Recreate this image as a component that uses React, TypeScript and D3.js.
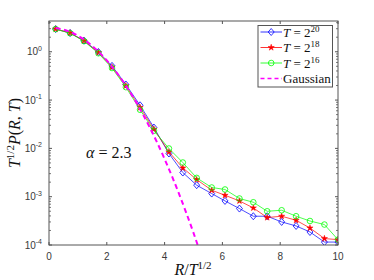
import React from "react";
import * as d3 from "d3";

const X = [0.23, 0.73, 1.21, 1.71, 2.18, 2.66, 3.15, 3.63, 4.15, 4.63, 5.11, 5.63, 6.09, 6.59, 7.07, 7.55, 8.05, 8.55, 9.03, 9.53, 10.0];
const blueT20 = [2.95, 2.45, 1.7, 0.99, 0.51, 0.21, 0.078, 0.027, 0.00783, 0.00316, 0.00173, 0.00116, 0.000817, 0.000568, 0.000394, 0.000394, 0.0003, 0.000248, 0.000186, 0.000115, 0.000115];
const redT18 = [2.95, 2.45, 1.68, 0.96, 0.48, 0.197, 0.07, 0.025, 0.00845, 0.00394, 0.00226, 0.00136, 0.00107, 0.000817, 0.000585, 0.00037, 0.000394, 0.000325, 0.000225, 0.000136, 0.000129];
const greenT16 = [2.95, 2.42, 1.66, 0.93, 0.46, 0.185, 0.063, 0.0232, 0.00995, 0.0051, 0.00245, 0.00155, 0.00141, 0.000917, 0.000767, 0.000499, 0.000524, 0.000394, 0.000314, 0.000265, 0.000129];
const gaussX = [0.23, 0.5, 0.75, 1.0, 1.25, 1.5, 1.75, 2.0, 2.25, 2.5, 2.75, 3.0, 3.25, 3.5, 3.75, 4.0, 4.25, 4.5, 4.75, 5.0, 5.25];
const gaussY = [3.09, 2.87, 2.54, 2.14, 1.716, 1.311, 0.954, 0.661, 0.436, 0.274, 0.1638, 0.0933, 0.0506, 0.02615, 0.01286, 0.00603, 0.00269, 0.001142, 0.000462, 0.000178, 0.0000652];
const xTicks = [0, 2, 4, 6, 8, 10];
const yTickExps = [-4, -3, -2, -1, 0];

const L = 49, R = 338, T = 21, B = 245;

export default function App() {
  const x = d3.scaleLinear().domain([0, 10]).range([L, R]);
  const y = d3.scaleLog().domain([1e-4, 4.33]).range([B, T]);
  const line = d3.line<[number, number]>().x(d => x(d[0])).y(d => y(d[1]));
  const gLine = d3.line<[number, number]>().x(d => x(d[0])).y(d => y(d[1])).curve(d3.curveMonotoneX);

  const series = [
    { vals: blueT20, color: "#0000ff", marker: "diamond", label: "20" },
    { vals: redT18, color: "#ff0000", marker: "star", label: "18" },
    { vals: greenT16, color: "#00ff00", marker: "circle", label: "16" },
  ];

  const drawMarker = (m: string, color: string, cx: number, cy: number, key: any) => {
    if (m === "diamond") {
      return <path key={key} d={`M${cx},${cy - 3.5}L${cx + 3},${cy}L${cx},${cy + 3.5}L${cx - 3},${cy}Z`} fill="none" stroke={color} strokeWidth={0.8} />;
    }
    if (m === "circle") {
      return <circle key={key} cx={cx} cy={cy} r={2.8} fill="none" stroke={color} strokeWidth={0.8} />;
    }
    const s = d3.symbol().type(d3.symbolStar).size(12)();
    return <path key={key} d={s || ""} transform={`translate(${cx},${cy})`} fill={color} stroke={color} strokeWidth={0.5} />;
  };

  const minor: number[] = [];
  for (let e = -4; e <= 0; e++) {
    for (let k = 2; k <= 9; k++) {
      const v = k * Math.pow(10, e);
      if (v <= 4.33) minor.push(v);
    }
  }

  const axisColor = "#555";
  const textColor = "#3a3a3a";
  const serif = "'Liberation Serif', 'Times New Roman', serif";
  const sans = "'Liberation Sans', Arial, Helvetica, sans-serif";

  const legendRows = [32, 47.5, 63, 78.5];

  return (
    <svg width={374} height={280} style={{ position: "absolute", left: 0, top: 0 }}>
      <rect x={0} y={0} width={374} height={280} fill="#fff" />
      <defs>
        <clipPath id="plotclip">
          <rect x={L} y={T} width={R - L} height={B - T} />
        </clipPath>
      </defs>
      <g clipPath="url(#plotclip)">
        {series.map((s, si) => (
          <g key={si}>
            <path d={line(X.map((xv, i) => [xv, s.vals[i]] as [number, number])) || ""} fill="none" stroke={s.color} strokeWidth={0.7} />
            {X.map((xv, i) => drawMarker(s.marker, s.color, x(xv), y(s.vals[i]), i))}
          </g>
        ))}
        <path d={gLine(gaussX.map((xv, i) => [xv, gaussY[i]] as [number, number])) || ""} fill="none" stroke="#ff00ff" strokeWidth={2} strokeDasharray="5,3.5" />
      </g>
      <rect x={L} y={T} width={R - L} height={B - T} fill="none" stroke={axisColor} strokeWidth={1} />
      {xTicks.map(t => (
        <g key={"xt" + t}>
          <line x1={x(t)} x2={x(t)} y1={B} y2={B - 3} stroke={axisColor} />
          <line x1={x(t)} x2={x(t)} y1={T} y2={T + 3} stroke={axisColor} />
          <text x={x(t)} y={259.5} textAnchor="middle" fontFamily={sans} fontSize={10} fill={textColor}>{t}</text>
        </g>
      ))}
      {yTickExps.map(e => {
        const v = Math.pow(10, e);
        return (
          <g key={"yt" + e}>
            <line x1={L} x2={L + 3} y1={y(v)} y2={y(v)} stroke={axisColor} />
            <line x1={R} x2={R - 3} y1={y(v)} y2={y(v)} stroke={axisColor} />
            <text x={42} y={y(v) + 3.5} textAnchor="end" fontFamily={sans} fontSize={10} fill={textColor}>
              10<tspan dy={-4.5} fontSize={7}>{e}</tspan>
            </text>
          </g>
        );
      })}
      {minor.map((v, i) => (
        <g key={"mn" + i}>
          <line x1={L} x2={L + 2} y1={y(v)} y2={y(v)} stroke={axisColor} strokeWidth={0.8} />
          <line x1={R} x2={R - 2} y1={y(v)} y2={y(v)} stroke={axisColor} strokeWidth={0.8} />
        </g>
      ))}
      <text x={193} y={275} textAnchor="middle" fontFamily={serif} fontSize={16} fill="#111">
        <tspan fontStyle="italic">R</tspan>/<tspan fontStyle="italic">T</tspan><tspan dy={-6} fontSize={11}>1/2</tspan>
      </text>
      <text transform="translate(20,133) rotate(-90)" textAnchor="middle" fontFamily={serif} fontSize={16} fill="#111">
        <tspan fontStyle="italic">T</tspan><tspan dy={-6} fontSize={11}>1/2</tspan><tspan dy={6} fontStyle="italic">P</tspan>(<tspan fontStyle="italic">R</tspan>, <tspan fontStyle="italic">T</tspan>)
      </text>
      <text x={86} y={158} fontFamily={serif} fontSize={16} fill="#111">
        <tspan fontStyle="italic">α</tspan> = 2.3
      </text>
      <rect x={258} y={25.5} width={74.5} height={61.5} fill="#fff" stroke={axisColor} strokeWidth={1} />
      {series.map((s, i) => (
        <g key={"lg" + i}>
          <line x1={260.5} x2={282} y1={legendRows[i]} y2={legendRows[i]} stroke={s.color} strokeWidth={0.8} />
          {drawMarker(s.marker, s.color, 271.2, legendRows[i], "m")}
          <text x={283} y={legendRows[i] + 4.5} fontFamily={serif} fontSize={13} fill="#111">
            <tspan fontStyle="italic">T</tspan> = 2<tspan dy={-5} fontSize={9}>{s.label}</tspan>
          </text>
        </g>
      ))}
      <line x1={260.5} x2={282} y1={legendRows[3]} y2={legendRows[3]} stroke="#ff00ff" strokeWidth={1.6} strokeDasharray="4,3" />
      <text x={283} y={legendRows[3] + 4.5} fontFamily={serif} fontSize={13} fill="#111">Gaussian</text>
    </svg>
  );
}
